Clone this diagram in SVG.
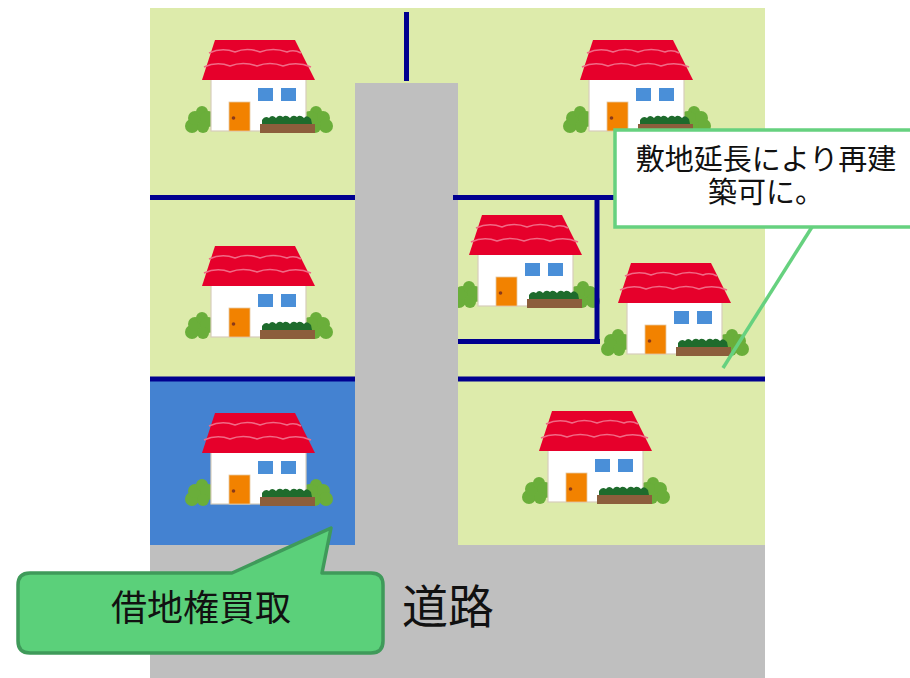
<svg xmlns="http://www.w3.org/2000/svg" xmlns:xlink="http://www.w3.org/1999/xlink" width="910" height="678" viewBox="0 0 910 678">
  <style>
    .lot { fill: #DDEBAB; }
    .road { fill: #BFBFBF; }
    .bound { stroke: #00008F; stroke-width: 5; fill: none; }
    .jp { font-family: "Noto Sans CJK JP", "Noto Sans", sans-serif; fill: #111; text-anchor: middle; }
    .note { fill: #FFFFFF; stroke: #66D17F; stroke-width: 3.5; }
    .pointer { stroke: #66D17F; stroke-width: 3.5; fill: none; }
    .bubble { fill: #5BD07A; stroke: #3F9A5A; stroke-width: 3.5; stroke-linejoin: round; }
  </style>
  <defs>
    <!-- house icon, origin at left bush edge / roof top -->
    <g id="house">
      <g fill="#6AAE3A">
        <circle cx="7" cy="86" r="7"/>
        <circle cx="10" cy="78" r="7"/>
        <circle cx="17" cy="72" r="6"/>
        <circle cx="23" cy="79" r="8"/>
        <circle cx="18" cy="87" r="6"/>
        <circle cx="131" cy="72" r="6"/>
        <circle cx="138" cy="78" r="7"/>
        <circle cx="141" cy="86" r="7"/>
        <circle cx="125" cy="79" r="8"/>
        <circle cx="130" cy="87" r="6"/>
      </g>
      <rect x="26" y="36" width="95" height="55" fill="#FFFFFF" stroke="#D8CDBB" stroke-width="1.2"/>
      <polygon points="30,0 110,0 130,40 17,40" fill="#E6002B"/>
      <path d="M24,13 Q37,7 50,12 Q62,7 75,12 Q88,7 102,12 Q109,9 116,13" fill="none" stroke="#F06A86" stroke-width="1.6"/>
      <path d="M19,27 Q32,21 45,26 Q58,21 72,26 Q85,21 98,26 Q112,21 126,27" fill="none" stroke="#F06A86" stroke-width="1.6"/>
      <rect x="73" y="48" width="15" height="13" fill="#4A8FD8"/>
      <rect x="96" y="48" width="15" height="13" fill="#4A8FD8"/>
      <rect x="44" y="62" width="21" height="29" fill="#F28200" stroke="#E5C9A0" stroke-width="0.8"/>
      <circle cx="48.5" cy="78" r="1.8" fill="#8A3A1A"/>
      <path d="M77,84 L77,80 Q80,75 84,78 Q87,74 91,78 Q94,74 98,77 Q101,74 105,78 Q108,74 112,77 Q115,74 119,78 Q122,74 126,79 L127,84 Z" fill="#1E6B2C"/>
      <rect x="75" y="84" width="55" height="9" fill="#8C5E3C"/>
    </g>
  </defs>

  <!-- ground -->
  <rect class="lot" x="150" y="8" width="615" height="537"/>
  <rect id="leasehold-lot" x="150" y="379" width="205" height="166" fill="#4482D1"/>

  <!-- houses -->
  <g id="house-1"><use xlink:href="#house" x="185" y="40"/></g>
  <g id="house-2"><use xlink:href="#house" x="563" y="40"/></g>
  <g id="house-3"><use xlink:href="#house" x="185" y="246"/></g>
  <g id="house-4"><use xlink:href="#house" x="452" y="215"/></g>
  <g id="house-5"><use xlink:href="#house" x="601" y="263"/></g>
  <g id="house-6"><use xlink:href="#house" x="185" y="413"/></g>
  <g id="house-7"><use xlink:href="#house" x="522" y="411"/></g>

  <!-- road -->
  <g id="road">
    <rect class="road" x="355" y="83" width="103" height="470"/>
    <rect class="road" x="150" y="545" width="615" height="133"/>
  </g>

  <!-- lot boundaries -->
  <g id="lot-lines">
    <line class="bound" x1="406.5" y1="12" x2="406.5" y2="81"/>
    <line class="bound" x1="150" y1="197.5" x2="355" y2="197.5"/>
    <line class="bound" x1="453" y1="197.5" x2="765" y2="197.5"/>
    <line class="bound" x1="597" y1="195" x2="597" y2="344"/>
    <line class="bound" x1="458" y1="341.5" x2="600" y2="341.5"/>
    <line class="bound" x1="150" y1="379" x2="355" y2="379"/>
    <line class="bound" x1="458" y1="379" x2="765" y2="379"/>
  </g>

  <!-- connectors -->
  <g id="connectors">
    <line class="pointer" x1="812" y1="227" x2="723" y2="368"/>
  </g>

  <!-- note: flag lot -->
  <g id="note-extension">
    <rect class="note" x="615" y="130" width="310" height="97"/>
    <text class="jp" font-size="29"><tspan x="766" y="170">敷地延長により再建</tspan><tspan x="766" y="203">築可に。</tspan></text>
  </g>

  <!-- note: leasehold purchase -->
  <g id="note-leasehold">
    <path class="bubble" d="M30,573 L232,573 L331,528 L322,573 L371,573 Q383,573 383,585 L383,641 Q383,653 371,653 L30,653 Q18,653 18,641 L18,585 Q18,573 30,573 Z"/>
    <text class="jp" x="201" y="621" font-size="36">借地権買取</text>
  </g>

  <g id="road-label">
    <text class="jp" x="448" y="623" font-size="46">道路</text>
  </g>
</svg>
